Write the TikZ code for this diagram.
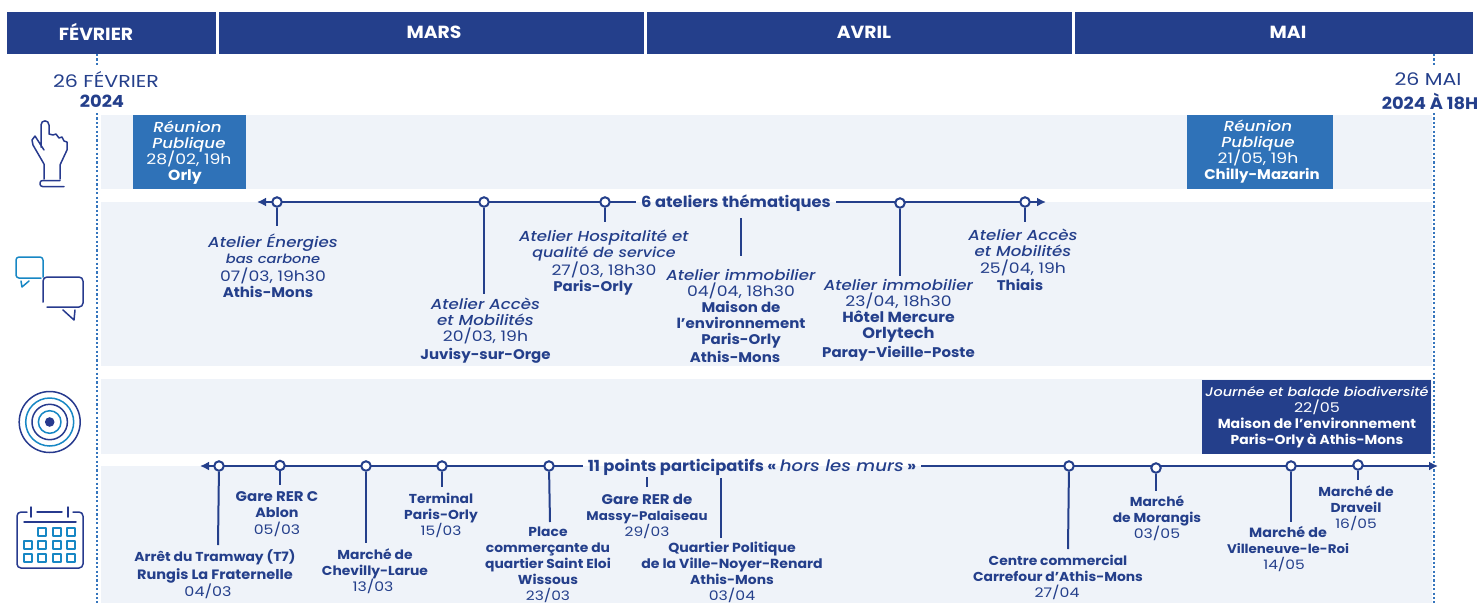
\documentclass[tikz,border=0pt]{standalone}
\usepackage{fontspec}
\usetikzlibrary{arrows.meta}
\setmainfont{Poppins}[FakeStretch=1.19,Scale=1.08,BoldFeatures={FakeStretch=1.07,Scale=1.045},ItalicFont={Poppins Medium Italic},ItalicFeatures={FakeStretch=1.15}]
\definecolor{navy}{HTML}{243F8B}
\definecolor{midblue}{HTML}{2F72B8}
\definecolor{bandc}{HTML}{EFF3F9}
\definecolor{dotc}{HTML}{3575BD}
\definecolor{cyanc}{HTML}{1787C4}
\definecolor{iconnavy}{HTML}{273A8E}
\newcommand{\fsz}[2]{{\fontsize{#1}{16}\selectfont #2}}
\newcommand{\lsh}[1]{\hspace*{#1pt}}
\tikzset{
  monthbar/.style={fill=navy,draw=none,inner sep=0pt,anchor=north west,minimum height=42pt},
  monthtxt/.style={text=white,font=\fontsize{16.8}{18}\selectfont\bfseries,inner sep=0pt},
  lbl/.style={text=navy,align=center,inner sep=0pt,font=\fontsize{13.4}{16}\selectfont},
  lbs/.style={text=navy,align=center,inner sep=0pt,font=\fontsize{12.4}{16}\selectfont},
  datelbl/.style={text=navy,align=center,inner sep=0pt,font=\fontsize{16}{21}\selectfont},
  boxlbl/.style={text=white,align=center,inner sep=0pt,font=\fontsize{13.4}{16}\selectfont},
  hdr/.style={text=navy,font=\fontsize{14.6}{18}\selectfont\bfseries,inner xsep=5pt,inner ysep=2pt},
  tline/.style={draw=navy,line width=2pt},
  stem/.style={draw=navy,line width=2pt},
  dotline/.style={draw=dotc,line width=2.2pt,dash pattern=on 2.2pt off 2.2pt},
  hole/.style={circle,draw=navy,fill=white,line width=2pt,minimum size=9.5pt,inner sep=0pt},
  icon/.style={draw=iconnavy,line width=1.5pt,line cap=round,line join=round},
  iconb/.style={draw=cyanc,line width=1.5pt,line cap=round,line join=round},
}
\begin{document}
\begin{tikzpicture}[x=1pt,y=-1pt]
\useasboundingbox (0,0) rectangle (1481,603);
% months
\node[monthbar,minimum width=209pt] (m1) at (7,12) {};
\node[monthbar,minimum width=425pt] (m2) at (219,12) {};
\node[monthbar,minimum width=425pt] (m3) at (647,12) {};
\node[monthbar,minimum width=398pt] (m4) at (1075,12) {};
\node[monthtxt] (mt1) at (96,32) {FÉVRIER};
\node[monthtxt] (mt2) at (434,32) {MARS};
\node[monthtxt] (mt3) at (864,32) {AVRIL};
\node[monthtxt] (mt4) at (1288,32) {MAI};
% bands
\fill[bandc] (101,115) rectangle (1432,189);
\fill[bandc] (101,202) rectangle (1432,366);
\fill[bandc] (101,379) rectangle (1432,454);
\fill[bandc] (101,466) rectangle (1432,603);
% dotted verticals
\draw[dotline] (97,54) -- (97,66);
\draw[dotline] (97,113) -- (97,603);
\draw[dotline] (1434,54) -- (1434,66);
\draw[dotline] (1434,113) -- (1434,603);
\node[datelbl] (d1a) at (106,79.5) {26 FÉVRIER};
\node[datelbl] (d1b) at (102,101) {\textbf{2024}};
\node[datelbl] (d2a) at (1428,79.5) {26 MAI};
\node[datelbl] (d2b) at (1430,101) {\textbf{2024 À 18H}};
% boxes
\fill[midblue] (133,115) rectangle (246,189);
\node[boxlbl] (b1) at (189,153) {\textit{Réunion}\lsh{3}\\\textit{Publique}\\[-2.5pt]28/02, 19h\\\fsz{14}{\textbf{Orly}}\lsh{8}};
\fill[midblue] (1187,115) rectangle (1333,189);
\node[boxlbl] (b2) at (1258,152) {\textit{Réunion}\\\textit{Publique}\\[-2.5pt]21/05, 19h\\\lsh{8}\textbf{Chilly-Mazarin}};
\fill[navy] (1202,380) rectangle (1431,454);
\node[boxlbl] (b3) at (1317,417.5) {\fsz{11.6}{\textit{Journée et balade biodiversité}}\\\fsz{12.4}{22/05}\\\fsz{12.6}{\textbf{Maison de l’environnement}}\\\fsz{12.4}{\textbf{Paris-Orly à Athis-Mons}}};
% timeline 1
\node[hdr] (h1) at (736,203) {6 ateliers thématiques};
\coordinate (t1a) at (257,202);
\coordinate (t1b) at (1046,202);
\draw[tline,-{Latex[length=9pt,width=9pt]}] (h1.west |- t1a) -- (t1a);
\draw[tline,-{Latex[length=9pt,width=9pt]}] (h1.east |- t1b) -- (t1b);
\node[hole] (c1) at (277,202) {};
\node[hole] (c2) at (484,202) {};
\node[hole] (c3) at (605,202) {};
\node[hole] (c4) at (900,203) {};
\node[hole] (c5) at (1025,202) {};
\coordinate (e1) at (277,226);
\coordinate (e2) at (484,294);
\coordinate (e3) at (605,222);
\coordinate (e4) at (900,276);
\coordinate (e5) at (1025,222);
\coordinate (e6a) at (741,218);
\coordinate (e6b) at (741,256);
\draw[stem] (c1) -- (e1);
\draw[stem] (c2) -- (e2);
\draw[stem] (c3) -- (e3);
\draw[stem] (c4) -- (e4);
\draw[stem] (c5) -- (e5);
\draw[stem] (e6a) -- (e6b);
\node[lbl] (l1) at (273,265.5) {\textit{Atelier Énergies}\\\fsz{11.8}{\textit{bas carbone}}\lsh{2}\\[1.5pt]07/03, 19h30\\\textbf{Athis-Mons}\lsh{10}};
\node[lbl] (l2) at (485.5,331) {\textit{Atelier Accès}\\\textit{et Mobilités}\\20/03, 19h\\[2pt]\textbf{Juvisy-sur-Orge}};
\node[lbl] (l3) at (604,262.5) {\textit{Atelier Hospitalité et}\\\fsz{12.8}{\textit{qualité de service}}\lsh{10}\\27/03, 18h30\lsh{12}\\\textbf{Paris-Orly}\lsh{22}};
\node[lbl] (l4) at (741,315.5) {\textit{Atelier immobilier}\\04/04, 18h30\\\textbf{Maison de}\lsh{16}\\\textbf{l’environnement}\\\textbf{Paris-Orly}\lsh{12}\\[2pt]\textbf{Athis-Mons}\lsh{12}};
\node[lbl] (l5) at (898.5,320) {\textit{Atelier immobilier}\\23/04, 18h30\lsh{9}\\\fsz{14}{\textbf{Hôtel Mercure}}\lsh{10}\\\fsz{14.5}{\textbf{Orlytech}}\lsh{12}\\[3pt]\textbf{Paray-Vieille-Poste}};
\node[lbl] (l6) at (1023,260) {\textit{Atelier Accès}\\\textit{et Mobilités}\\[1.5pt]25/04, 19h\\[1pt]\textbf{Thiais}\lsh{6}};
% timeline 2
\node[hdr] (h2) at (752,467) {11 points participatifs « \textit{\mdseries hors les murs} »};
\coordinate (t2a) at (200,466);
\coordinate (t2b) at (1438,466);
\draw[tline,-{Latex[length=9pt,width=9pt]}] (h2.west |- t2a) -- (t2a);
\draw[tline,-{Latex[length=9pt,width=9pt]}] (h2.east |- t2b) -- (t2b);
\node[hole] (p1) at (219,466) {};
\node[hole] (p2) at (280,465.5) {};
\node[hole] (p3) at (366,466) {};
\node[hole] (p4) at (442,466) {};
\node[hole] (p5) at (549,466) {};
\node[hole] (p6) at (1069,466) {};
\node[hole] (p7) at (1156,468) {};
\node[hole] (p8) at (1291,466) {};
\node[hole] (p9) at (1358,465) {};
\coordinate (q1) at (218,545);
\coordinate (q2) at (280,485);
\coordinate (q3) at (366,543);
\coordinate (q4) at (442,487);
\coordinate (q5) at (550,522);
\coordinate (q6) at (1068,549);
\coordinate (q7) at (1156,491);
\coordinate (q8) at (1291,522);
\coordinate (q9) at (1358,480);
\coordinate (r1a) at (647,477);
\coordinate (r1b) at (647,487);
\coordinate (r2a) at (721,478);
\coordinate (r2b) at (721,538);
\draw[stem] (p1) -- (q1);
\draw[stem] (p2) -- (q2);
\draw[stem] (p3) -- (q3);
\draw[stem] (p4) -- (q4);
\draw[stem] (p5) -- (q5);
\draw[stem] (p6) -- (q6);
\draw[stem] (p7) -- (q7);
\draw[stem] (p8) -- (q8);
\draw[stem] (p9) -- (q9);
\draw[stem] (r1a) -- (r1b);
\draw[stem] (r2a) -- (r2b);
\node[lbs] (n1) at (215,574) {\textbf{Arrêt du Tramway (T7)}\\[2pt]\fsz{13}{\textbf{Rungis La Fraternelle}}\\\fsz{12.4}{04/03}\lsh{14}};
\node[lbl] (n2) at (277,514) {\textbf{Gare RER C}\\\fsz{12.8}{\textbf{Ablon}}\\[1.5pt]\fsz{12.2}{05/03}};
\node[lbs] (n3) at (375,571) {\textbf{Marché de}\\\textbf{Chevilly-Larue}\\\fsz{12.2}{13/03}\lsh{4}};
\node[lbs] (n4) at (441,515) {\textbf{Terminal}\\\textbf{Paris-Orly}\\\fsz{12}{15/03}};
\node[lbs] (n5) at (548,564.5) {\textbf{Place}\\\textbf{commerçante du}\\\textbf{quartier Saint Eloi}\\\textbf{Wissous}\\\fsz{12}{23/03}};
\node[lbl] (n6) at (647,516) {\textbf{Gare RER de}\\\fsz{12}{\textbf{Massy-Palaiseau}}\\\fsz{12}{29/03}};
\node[lbs] (n7) at (732,572.5) {\fsz{12.6}{\textbf{Quartier Politique}}\\\fsz{12.6}{\textbf{de la Ville-Noyer-Renard}}\\\textbf{Athis-Mons}\\\fsz{12.2}{03/04}};
\node[lbs] (n8) at (1058,577) {\textbf{Centre commercial}\\\textbf{Carrefour d’Athis-Mons}\\\fsz{12.2}{27/04}\lsh{2}};
\node[lbs] (n9) at (1157,518) {\textbf{Marché}\\\textbf{de Morangis}\\\fsz{12.2}{03/05}};
\node[lbl] (n10) at (1288,549.5) {\fsz{12.8}{\textbf{Marché de}}\\\fsz{12}{\textbf{Villeneuve-le-Roi}}\\\fsz{12}{14/05}\lsh{8}};
\node[lbs] (n11) at (1356,508) {\textbf{Marché de}\\\textbf{Draveil}\\\fsz{12}{16/05}};
% icon: hand
\draw[icon] (41,147) -- (41,125) .. controls (41,119.5) and (49,119.5) .. (49,125) -- (49,134) -- (53,135) -- (56,134) -- (59,138) -- (62,137) -- (64,141) -- (67,142) -- (67,150) -- (60,165) -- (60,179) (44,179) -- (44,164) -- (33,145) -- (32,140) -- (35,136) -- (44,150);
\draw[icon,rounded corners=2.5pt] (64,186.5) -- (40,186.5) -- (40,180.5) -- (60,180.5);
% icon: bubbles
\draw[iconb,rounded corners=3pt] (41,278) -- (16,278) -- (16,257) -- (43,257) -- (43,277);
\draw[iconb] (21,281) -- (22,287) -- (29,281);
\draw[icon,rounded corners=4pt] (43,302) -- (43,277) -- (83,277) -- (83,307) -- (47,307);
\draw[icon] (63,310) -- (74,320) -- (75,310);
% icon: target
\draw[icon] (49.7,422) circle[radius=30.5];
\draw[iconb] (49.7,422) circle[radius=24];
\draw[icon] (49.7,422) circle[radius=17.7];
\draw[iconb] (49.7,422) circle[radius=11.3];
\fill[iconnavy] (49.7,422) circle[radius=4.8];
% icon: calendar
\draw[icon,rounded corners=4pt] (27,512) -- (17,512) -- (17,568) -- (83,568) -- (83,512) -- (73,512);
\draw[icon] (37,512) -- (62,512) (31,507) -- (31,517) (68,507) -- (68,517) (24,522) -- (76,522);
\foreach \px/\py in {42/532,57/532,71/532,28/545,42/545,57/545,71/545,28/558,42/558,57/558,71/558}
  \draw[iconb,line width=1.6pt,line cap=butt] (\px-3.8,\py-3.8) rectangle (\px+3.8,\py+3.8);
\end{tikzpicture}
\end{document}
